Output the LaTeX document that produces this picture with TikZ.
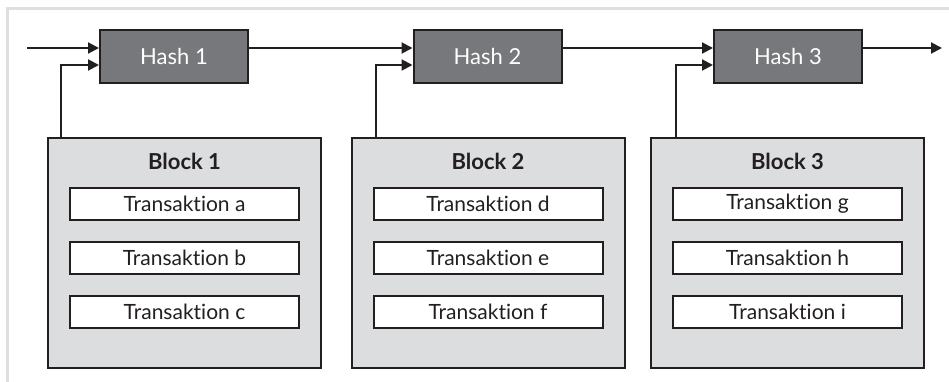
\documentclass[tikz,border=0pt]{standalone}
\usepackage{fontspec}
\setmainfont[Ligatures=NoCommon]{Lato}
\usetikzlibrary{arrows.meta}
\definecolor{hashfill}{HTML}{77787B}
\definecolor{blockfill}{HTML}{DCDDDF}
\definecolor{ink}{HTML}{231F20}
\definecolor{framec}{HTML}{DFDFDF}
\tikzset{
  hashbox/.style={draw=ink, line width=2pt, fill=hashfill, minimum width=148pt, minimum height=53pt, inner sep=0pt, text=white, font=\fontsize{22}{26}\selectfont},
  blockbox/.style={draw=ink, line width=2pt, fill=blockfill, minimum width=273pt, minimum height=230pt, inner sep=0pt},
  txbox/.style={draw=ink, line width=2pt, fill=white, minimum width=229pt, minimum height=32pt, inner sep=0pt, text=ink, font=\fontsize{21}{24}\selectfont},
  titlelbl/.style={text=ink, font=\bfseries\fontsize{22}{26}\selectfont, inner sep=0pt},
  arr/.style={draw=ink, line width=2pt, -{Triangle[length=11pt,width=11pt]}},
  ln/.style={draw=ink, line width=2pt}
}
\begin{document}
\begin{tikzpicture}[x=1pt,y=-1pt]
\useasboundingbox (0,0) rectangle (949,382);
\draw[framec, line width=3pt] (7,382) -- (7,9) -- (949,9);
% hashes
\node[hashbox] (h1) at (174,56.5) {Hash 1};
\node[hashbox] (h2) at (487.5,56.5) {Hash 2};
\node[hashbox] (h3) at (788,56.5) {Hash 3};
% blocks
\foreach \i/\x/\a/\b/\c in {1/184.5/a/b/c, 2/488/d/e/f, 3/787.5/g/h/i}{
  \node[blockbox] (b\i) at (\x,253) {};
  \node[titlelbl] (t\i) at (\x,161) {Block \i};
  \node[txbox] (b\i a) at (\x,204) {Transaktion \a};
  \node[txbox] (b\i b) at (\x,258) {Transaktion \b};
  \node[txbox] (b\i c) at (\x,312) {Transaktion \c};
}
\coordinate (in) at (27,48);
\coordinate (out) at (942,48);
\draw[arr] (in) -- (h1.west |- in);
\draw[arr] ([yshift=8.5pt]h1.east) -- ([yshift=8.5pt]h2.west);
\draw[arr] ([yshift=8.5pt]h2.east) -- ([yshift=8.5pt]h3.west);
\draw[arr] ([yshift=8.5pt]h3.east) -- (out);
\draw[arr] ([xshift=14pt]b1.north west) |- ([yshift=-8.5pt]h1.west);
\draw[arr] ([xshift=25pt]b2.north west) |- ([yshift=-8.5pt]h2.west);
\draw[arr] ([xshift=26pt]b3.north west) |- ([yshift=-8.5pt]h3.west);
\end{tikzpicture}
\end{document}
